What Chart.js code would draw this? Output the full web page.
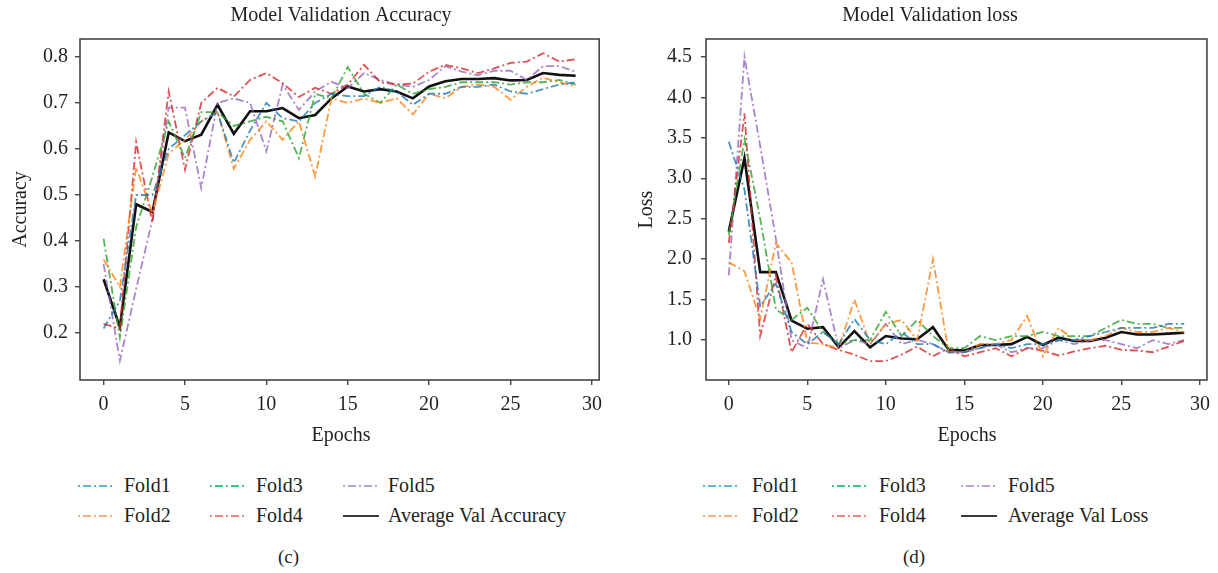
<!DOCTYPE html>
<html>
<head>
<meta charset="utf-8">
<script src="https://cdn.jsdelivr.net/npm/chart.js@4.4.1/dist/chart.umd.min.js"></script>
<style>
  body { margin: 0; background: #fff; width: 1218px; height: 573px; overflow: hidden; position: relative;
         font-family: "Liberation Serif", "Times New Roman", serif; color: #231f20; }
  .box { position: absolute; top: 0; }
  .leg { position: absolute; font-size: 20px; line-height: 22px; white-space: nowrap; }
  .sample { position: absolute; }
  .cap { position: absolute; font-size: 19px; top: 546px; }
</style>
</head>
<body>
<div class="box" style="left:0;width:610px;height:450px"><canvas id="accChart"></canvas></div>
<div class="box" style="left:620px;width:598px;height:450px"><canvas id="lossChart"></canvas></div>
<div id="legends"></div>
<div class="cap" style="left:278px">(c)</div>
<div class="cap" style="left:903px">(d)</div>
<script>
// epochs and tick labels
let epochs = [];
for (i = 0; i < 30; i++){
    epochs.push(i);
}
let xTicks = [0, 5, 10, 15, 20, 25, 30];
let accTicks = [0.2, 0.3, 0.4, 0.5, 0.6, 0.7, 0.8];
let lossTicks = [1.0, 1.5, 2.0, 2.5, 3.0, 3.5, 4.0, 4.5];

let foldNames = ['Fold1', 'Fold2', 'Fold3', 'Fold4', 'Fold5'];

// validation accuracy per fold
let accFold1 = [0.21,0.27,0.50,0.50,0.60,0.63,0.66,0.68,0.57,0.64,0.70,0.667,0.66,0.70,0.72,0.715,0.715,0.735,0.725,0.696,0.72,0.72,0.735,0.735,0.74,0.725,0.72,0.73,0.74,0.745];
let accFold2 = [0.36,0.30,0.56,0.46,0.59,0.62,0.66,0.68,0.557,0.62,0.66,0.62,0.66,0.54,0.71,0.70,0.71,0.70,0.71,0.675,0.72,0.71,0.735,0.74,0.735,0.707,0.735,0.755,0.745,0.736];
let accFold3 = [0.405,0.19,0.43,0.54,0.66,0.58,0.68,0.68,0.65,0.66,0.67,0.66,0.58,0.72,0.71,0.778,0.72,0.70,0.74,0.72,0.73,0.735,0.745,0.745,0.745,0.74,0.745,0.745,0.75,0.74];
let accFold4 = [0.22,0.21,0.615,0.44,0.725,0.555,0.70,0.733,0.714,0.75,0.765,0.743,0.713,0.733,0.72,0.74,0.783,0.745,0.74,0.742,0.768,0.783,0.775,0.765,0.775,0.787,0.79,0.808,0.79,0.795];
let accFold5 = [0.35,0.14,0.296,0.447,0.69,0.69,0.515,0.70,0.71,0.70,0.595,0.74,0.685,0.725,0.746,0.732,0.765,0.75,0.74,0.735,0.75,0.78,0.768,0.76,0.77,0.77,0.75,0.78,0.78,0.768];
let accAverage = [0.317,0.213,0.48,0.463,0.636,0.617,0.631,0.696,0.633,0.682,0.682,0.689,0.667,0.674,0.71,0.736,0.725,0.73,0.725,0.71,0.736,0.747,0.752,0.752,0.754,0.749,0.75,0.765,0.761,0.759];

// validation loss per fold
let lossFold1 = [3.45,2.86,1.42,1.7,1.1,0.95,1.1,0.95,1.26,1.0,0.95,1.1,0.95,0.95,0.85,0.85,0.9,0.95,0.9,0.95,0.95,1.0,1.0,1.05,1.1,1.15,1.15,1.15,1.2,1.2];
let lossFold2 = [1.96,1.85,1.26,2.2,1.96,0.97,0.95,0.9,1.5,0.95,1.2,1.25,1.0,2.0,0.85,0.85,0.95,0.95,1.0,1.3,0.8,1.15,1.0,1.0,1.05,1.15,1.1,1.1,1.15,1.1];
let lossFold3 = [2.3,3.48,2.5,1.38,1.25,1.4,1.1,0.95,1.0,1.0,1.35,1.05,1.25,1.05,0.9,0.9,1.05,1.0,1.05,1.05,1.1,1.05,1.05,1.05,1.15,1.25,1.2,1.2,1.15,1.15];
let lossFold4 = [2.2,3.8,1.05,1.8,0.85,1.2,0.95,0.88,0.82,0.74,0.74,0.82,0.92,0.8,0.9,0.8,0.85,0.9,0.8,0.9,0.87,0.81,0.86,0.9,0.93,0.88,0.87,0.85,0.92,0.99];
let lossFold5 = [1.8,4.5,3.4,2.25,1.0,0.9,1.75,0.9,1.0,0.95,1.2,0.95,1.0,0.95,0.85,0.85,0.9,0.95,0.85,0.9,0.9,1.0,0.95,1.0,1.0,0.95,0.9,1.0,0.95,1.0];
let lossAverage = [2.34,3.25,1.84,1.84,1.24,1.14,1.16,0.91,1.11,0.91,1.05,1.02,1.01,1.16,0.88,0.87,0.94,0.94,0.95,1.04,0.94,1.03,0.99,0.99,1.03,1.1,1.07,1.07,1.08,1.09];

let lineColors = ['rgba(31,119,180,0.8)', 'rgba(255,127,14,0.8)', 'rgba(44,160,44,0.8)', 'rgba(214,39,40,0.8)', 'rgba(148,103,189,0.8)'];
let legendColors = ['#5bb5dc', '#f8b07c', '#3ec487', '#f0877f', '#b9a2d6'];

// box around the plot like matplotlib, plus title and x label
const frame = {
    id: 'frame',
    afterDraw(chart, args, opts){
        const a = chart.chartArea;
        const c = chart.ctx;
        c.save();
        c.strokeStyle = '#454545';
        c.lineWidth = 1.6;
        c.strokeRect(a.left, a.top, a.right - a.left, a.bottom - a.top);
        c.fillStyle = '#231f20';
        c.font = '20px "Liberation Serif"';
        c.textAlign = 'center';
        c.textBaseline = 'middle';
        c.fillText(opts.title, opts.titleX, 16);
        c.fillText(opts.xTitle, opts.xTitleX, 436);
        c.restore();
    }
};

function makeDatasets(folds, average, avgLabel){
    let sets = [];
    for (i = 0; i < folds.length; i++){
        sets.push({
            label: foldNames[i],
            data: folds[i],
            borderColor: lineColors[i],
            borderWidth: 1.8,
            borderDash: [8, 3, 2, 3],
            pointRadius: 0,
            tension: 0
        });
    }
    sets.push({
        label: avgLabel,
        data: average,
        borderColor: '#111',
        borderWidth: 2.6,
        pointRadius: 0,
        tension: 0
    });
    return sets;
}

function makeChart(id, title, titleX, xTitleX, yTitle, sets, yMin, yMax, yTickList, yWidth, yTitlePad, yTickPad){
    return new Chart(document.getElementById(id), {
        type: 'line',
        data: { labels: epochs, datasets: sets },
        options: {
            responsive: true,
            maintainAspectRatio: false,
            animation: { duration: 0 },
            layout: { padding: { left: 0, right: 8, top: 39, bottom: 2 } },
            plugins: {
                legend: { display: false },
                tooltip: { enabled: false },
                title: { display: false },
                frame: { title: title, titleX: titleX, xTitle: 'Epochs', xTitleX: xTitleX }
            },
            scales: {
                x: {
                    type: 'linear',
                    min: -1.45,
                    max: 30.45,
                    afterBuildTicks: (scale) => { scale.ticks = xTicks.map(v => ({ value: v })); },
                    afterFit: (scale) => { scale.height = 68; },
                    grid: { drawOnChartArea: false, drawTicks: true, tickLength: 5, color: '#454545', lineWidth: 1.4 },
                    border: { display: false },
                    ticks: { color: '#231f20', padding: 8, font: { family: 'Liberation Serif', size: 20 } }
                },
                y: {
                    min: yMin,
                    max: yMax,
                    afterBuildTicks: (scale) => { scale.ticks = yTickList.map(v => ({ value: v })); },
                    afterFit: (scale) => { scale.width = yWidth; },
                    grid: { drawOnChartArea: false, drawTicks: true, tickLength: 5, color: '#454545', lineWidth: 1.4 },
                    border: { display: false },
                    ticks: { color: '#231f20', padding: yTickPad, font: { family: 'Liberation Serif', size: 20 },
                             callback: (v) => Number(v).toFixed(1) },
                    title: { display: true, text: yTitle, color: '#231f20', padding: { top: yTitlePad, bottom: 0 },
                             font: { family: 'Liberation Serif', size: 20 } }
                }
            }
        },
        plugins: [frame]
    });
}

const accChart = makeChart('accChart', 'Model Validation Accuracy', 341, 341, 'Accuracy',
    makeDatasets([accFold1, accFold2, accFold3, accFold4, accFold5], accAverage, 'Average Val Accuracy'),
    0.098, 0.839, accTicks, 80, 9, 7);

const lossChart = makeChart('lossChart', 'Model Validation loss', 310, 347, 'Loss',
    makeDatasets([lossFold1, lossFold2, lossFold3, lossFold4, lossFold5], lossAverage, 'Average Val Loss'),
    0.507, 4.72, lossTicks, 86, 15, 9);

// html legends, three columns by two rows
function buildLegend(sampleX, textX, avgLabel){
    let names = foldNames.concat([avgLabel]);
    let rowsY = [486, 516];
    let holder = document.getElementById('legends');
    for (i = 0; i < names.length; i++){
        let col = Math.floor(i / 2);
        let row = i % 2;
        let y = rowsY[row];
        let svg = document.createElementNS('http://www.w3.org/2000/svg', 'svg');
        svg.setAttribute('width', 36);
        svg.setAttribute('height', 6);
        svg.setAttribute('class', 'sample');
        svg.style.left = sampleX[col] + 'px';
        svg.style.top = (y - 3) + 'px';
        let line = document.createElementNS('http://www.w3.org/2000/svg', 'line');
        line.setAttribute('x1', 0);
        line.setAttribute('x2', 36);
        line.setAttribute('y1', 3);
        line.setAttribute('y2', 3);
        if (i < 5){
            line.setAttribute('stroke', legendColors[i]);
            line.setAttribute('stroke-width', 2);
            line.setAttribute('stroke-dasharray', '2 3 8 3');
        } else {
            line.setAttribute('stroke', '#3a3a3a');
            line.setAttribute('stroke-width', 2.2);
        }
        svg.appendChild(line);
        holder.appendChild(svg);
        let label = document.createElement('div');
        label.className = 'leg';
        label.textContent = names[i];
        label.style.left = textX[col] + 'px';
        label.style.top = (y - 12) + 'px';
        holder.appendChild(label);
    }
}

buildLegend([78, 210, 343], [124, 256, 388], 'Average Val Accuracy');
buildLegend([703, 832, 961], [752, 879, 1008], 'Average Val Loss');
</script>
</body>
</html>
